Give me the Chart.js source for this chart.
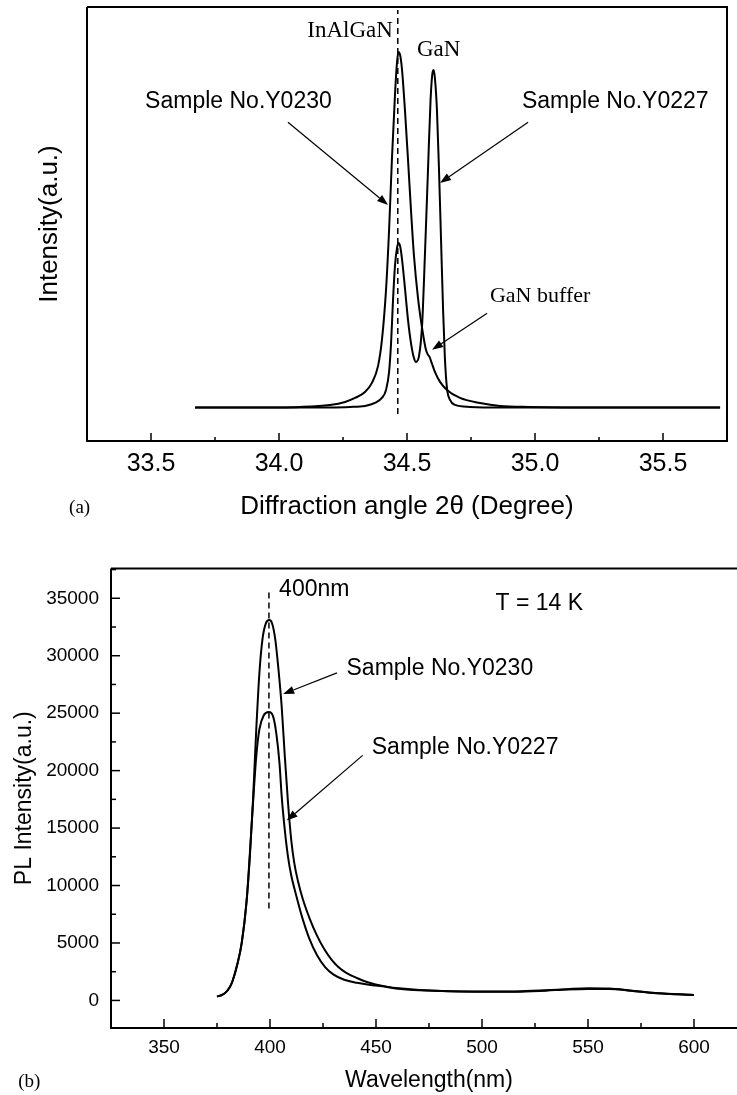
<!DOCTYPE html>
<html lang="en">
<head>
<meta charset="UTF-8">
<title>XRD and PL spectra</title>
<script src="https://cdn.jsdelivr.net/npm/chart.js"></script>
<style>
  html, body { margin: 0; padding: 0; background: #fff; overflow: hidden; }
  #wrapA { position: absolute; left: 0; top: 0; }
  #wrapB { position: absolute; left: 0; top: 545px; }
</style>
</head>
<body>
<div id="wrapA"><canvas id="xrdChart" width="737" height="540"></canvas></div>
<div id="wrapB"><canvas id="plChart" width="760" height="550"></canvas></div>

<script>
// (a) XRD: diffraction angle 2theta (deg) vs intensity (a.u.)
const xrdAngleY0230 = [33.672, 33.887, 34.082, 34.199, 34.258, 34.297, 34.336, 34.363, 34.387, 34.402, 34.418, 34.430, 34.441, 34.453, 34.461, 34.467, 34.473, 34.480, 34.492, 34.504, 34.516, 34.527, 34.543, 34.559, 34.574, 34.582, 34.588, 34.596, 34.609, 34.629, 34.656, 34.707, 34.785, 34.863, 34.980, 35.254, 35.723];
const xrdIntY0230   = [0, 0, 2, 8, 17, 29, 47, 74, 125, 202, 352, 532, 742, 936, 1035, 1065, 1056, 1017, 891, 742, 586, 457, 328, 238, 173, 158, 152, 135, 107, 77, 53, 29, 14, 5, 2, 0, 0];
const xrdAngleY0227 = [33.672, 34.082, 34.277, 34.336, 34.375, 34.402, 34.418, 34.430, 34.438, 34.445, 34.453, 34.461, 34.467, 34.473, 34.480, 34.492, 34.504, 34.516, 34.527, 34.535, 34.547, 34.559, 34.570, 34.582, 34.592, 34.600, 34.604, 34.609, 34.617, 34.625, 34.633, 34.641, 34.648, 34.656, 34.668, 34.688, 34.746, 34.863, 35.723];
const xrdIntY0227   = [0, 0, 2, 5, 14, 29, 53, 107, 197, 316, 424, 478, 493, 484, 448, 358, 262, 191, 149, 137, 155, 247, 457, 712, 921, 1005, 1011, 987, 891, 712, 502, 292, 149, 59, 23, 8, 2, 0, 0];
const xrdTicks = [33.5, 34.0, 34.5, 35.0, 35.5];
const xrdMinorTicks = [33.25, 33.75, 34.25, 34.75, 35.25, 35.75];
const xrdMarkAngle = 34.464;

// (b) PL at 14 K: wavelength (nm) vs PL intensity (a.u.)
const plWaveY0230 = [375, 377, 379, 381, 382.3, 384.5, 386.7, 389, 390.5, 392, 393.5, 395, 396.5, 398, 399.7, 401, 402.5, 404, 405.5, 407, 408.5, 410, 411.5, 413.3, 415.5, 418.9, 422, 425.5, 429, 432.1, 436, 441, 445, 449.8, 455, 460.9, 472, 485, 500, 516, 530, 540, 550, 560, 570, 582, 600];
const plIntY0230  = [340, 450, 680, 1150, 1670, 3080, 5060, 8730, 12500, 17500, 23500, 28500, 31500, 32800, 33100, 32800, 31400, 28800, 25600, 21200, 17200, 14000, 11900, 10300, 8800, 7030, 5700, 4490, 3550, 2940, 2400, 1950, 1650, 1390, 1200, 1050, 880, 800, 770, 780, 880, 980, 1060, 1040, 870, 650, 480];
const plWaveY0227 = [375, 377, 379, 381, 382.3, 384.5, 386.7, 389, 390.5, 392, 393.5, 395, 397, 399.5, 401.5, 403, 404.5, 405.5, 407, 408.5, 410, 412, 415.5, 418.5, 422.2, 426, 430, 435, 441, 446, 452, 463, 472, 485, 500, 516, 530, 540, 550, 560, 570, 582, 600];
const plIntY0227  = [340, 450, 680, 1150, 1670, 3080, 5060, 8730, 12800, 17200, 21200, 23600, 24800, 25100, 24700, 23200, 20600, 17800, 14800, 12500, 10900, 9400, 7030, 5400, 3930, 2900, 2240, 1800, 1530, 1380, 1250, 970, 880, 800, 760, 760, 850, 950, 1000, 1000, 850, 630, 480];
const plXTicks = [350, 400, 450, 500, 550, 600];
const plXMinorTicks = [375, 425, 475, 525, 575, 625];
const plYTicks = [0, 5000, 10000, 15000, 20000, 25000, 30000, 35000];
const plYMinorTicks = [2500, 7500, 12500, 17500, 22500, 27500, 32500, 37500];
const plMarkWave = 399.5;

const SANS = '"Liberation Sans", Arial, sans-serif';
const SERIF = '"Liberation Serif", "Times New Roman", serif';

function pts(xs, ys) {
  return xs.map((v, i) => ({ x: v, y: ys[i] }));
}

// frame, inward ticks, labels and arrows; everything placed through the scales
const framePlugin = {
  id: 'frame',
  afterDatasetsDraw(chart, args, o) {
    const { ctx, chartArea: a, scales: { x, y } } = chart;
    ctx.save();
    ctx.strokeStyle = '#000';
    ctx.fillStyle = '#000';
    ctx.lineWidth = 2;
    ctx.beginPath();
    ctx.moveTo(a.left, a.top); ctx.lineTo(a.right, a.top);
    if (o.rightSide) { ctx.lineTo(a.right, a.bottom); } else { ctx.moveTo(a.right, a.bottom); }
    ctx.lineTo(a.left, a.bottom); ctx.lineTo(a.left, a.top);
    ctx.stroke();

    ctx.lineWidth = 1.5;
    const tick = (vals, len, horiz) => {
      (vals || []).forEach(v => {
        ctx.beginPath();
        if (horiz) {
          const p = x.getPixelForValue(v);
          ctx.moveTo(p, a.bottom); ctx.lineTo(p, a.bottom - len);
        } else {
          const p = y.getPixelForValue(v);
          ctx.moveTo(a.left, p); ctx.lineTo(a.left + len, p);
        }
        ctx.stroke();
      });
    };
    tick(o.xMajor, o.majorLen, true);
    tick(o.xMinor, o.minorLen, true);
    tick(o.yMajor, o.majorLen, false);
    tick(o.yMinor, o.minorLen, false);

    (o.notes || []).forEach(n => {
      ctx.font = n.font;
      ctx.textAlign = n.align || 'left';
      ctx.textBaseline = 'middle';
      ctx.fillText(n.text, x.getPixelForValue(n.x), y.getPixelForValue(n.y));
    });

    ctx.lineWidth = 1.2;
    (o.arrows || []).forEach(ar => {
      const x0 = x.getPixelForValue(ar[0]), y0 = y.getPixelForValue(ar[1]);
      const x1 = x.getPixelForValue(ar[2]), y1 = y.getPixelForValue(ar[3]);
      const ang = Math.atan2(y1 - y0, x1 - x0);
      const hl = 11, hw = 4;
      const bx = x1 - hl * Math.cos(ang), by = y1 - hl * Math.sin(ang);
      ctx.beginPath();
      ctx.moveTo(x0, y0); ctx.lineTo(bx, by);
      ctx.stroke();
      ctx.beginPath();
      ctx.moveTo(x1, y1);
      ctx.lineTo(bx + hw * Math.sin(ang), by - hw * Math.cos(ang));
      ctx.lineTo(bx - hw * Math.sin(ang), by + hw * Math.cos(ang));
      ctx.closePath();
      ctx.fill();
    });
    ctx.restore();
  }
};

const curve = (data) => ({
  data,
  borderColor: '#000',
  borderWidth: 2,
  pointRadius: 0,
  fill: false,
  cubicInterpolationMode: 'monotone'
});
const markLine = (data) => ({
  data,
  borderColor: '#000',
  borderWidth: 1.5,
  borderDash: [6, 4],
  pointRadius: 0,
  fill: false
});

// ---------- (a) XRD ----------
new Chart(document.getElementById('xrdChart'), {
  type: 'line',
  data: {
    datasets: [
      curve(pts(xrdAngleY0230, xrdIntY0230)),
      curve(pts(xrdAngleY0227, xrdIntY0227)),
      markLine([{ x: xrdMarkAngle, y: -19 }, { x: xrdMarkAngle, y: 1191 }])
    ]
  },
  options: {
    responsive: false,
    animation: false,
    layout: { padding: { left: 0, top: 7, right: 10, bottom: 0 } },
    plugins: {
      legend: { display: false },
      tooltip: { enabled: false },
      frame: {
        rightSide: true,
        majorLen: 8, minorLen: 4,
        xMajor: xrdTicks, xMinor: xrdMinorTicks,
        notes: [
          { text: 'InAlGaN', x: 34.445, y: 1128, font: '23px ' + SERIF, align: 'right' },
          { text: 'GaN', x: 34.539, y: 1072, font: '23px ' + SERIF },
          { text: 'Sample No.Y0230', x: 33.477, y: 915, font: '23px ' + SANS },
          { text: 'Sample No.Y0227', x: 34.949, y: 915, font: '23px ' + SANS },
          { text: 'GaN buffer', x: 34.824, y: 334, font: '22px ' + SERIF },
          { text: '(a)', x: 33.180, y: -301, font: '19px ' + SERIF }
        ],
        arrows: [
          [34.035, 855, 34.426, 607],
          [34.973, 855, 34.629, 673],
          [34.813, 283, 34.598, 173]
        ]
      }
    },
    scales: {
      x: {
        type: 'linear', min: 33.25, max: 35.75,
        afterBuildTicks: s => { s.ticks = xrdTicks.map(v => ({ value: v })); },
        afterFit: s => { s.height = 99; },
        grid: { display: false, drawTicks: false },
        border: { display: false },
        ticks: { color: '#000', padding: 8, font: { family: SANS, size: 25 }, callback: v => v.toFixed(1), maxRotation: 0 },
        title: { display: true, text: 'Diffraction angle 2θ (Degree)', color: '#000', font: { family: SANS, size: 26 }, padding: { top: 0, bottom: 18 } }
      },
      y: {
        min: -100, max: 1200,
        afterFit: s => { s.width = 87; },
        grid: { display: false, drawTicks: false },
        border: { display: false },
        ticks: { display: false },
        title: { display: true, text: 'Intensity(a.u.)', color: '#000', font: { family: SANS, size: 26 }, padding: { top: 34, bottom: 0 } }
      }
    }
  },
  plugins: [framePlugin]
});

// ---------- (b) PL ----------
new Chart(document.getElementById('plChart'), {
  type: 'line',
  data: {
    datasets: [
      curve(pts(plWaveY0230, plIntY0230)),
      curve(pts(plWaveY0227, plIntY0227)),
      markLine([{ x: plMarkWave, y: 8000 }, { x: plMarkWave, y: 35800 }])
    ]
  },
  options: {
    responsive: false,
    animation: false,
    layout: { padding: { left: 0, top: 11, right: 13, bottom: 0 } },
    plugins: {
      legend: { display: false },
      tooltip: { enabled: false },
      frame: {
        rightSide: false,
        majorLen: 9, minorLen: 5,
        xMajor: plXTicks, xMinor: plXMinorTicks,
        yMajor: plYTicks, yMinor: plYMinorTicks,
        notes: [
          { text: '400nm', x: 404.3, y: 35740, font: '23px ' + SANS },
          { text: 'T = 14 K', x: 506.4, y: 34490, font: '23px ' + SANS },
          { text: 'Sample No.Y0230', x: 436.1, y: 28850, font: '23px ' + SANS },
          { text: 'Sample No.Y0227', x: 448.0, y: 22010, font: '23px ' + SANS },
          { text: '(b)', x: 281.2, y: -7060, font: '19px ' + SERIF }
        ],
        arrows: [
          [431.6, 28510, 406.2, 26670],
          [443.7, 21330, 407.9, 15650]
        ]
      }
    },
    scales: {
      x: {
        type: 'linear', min: 325, max: 625,
        afterBuildTicks: s => { s.ticks = plXTicks.map(v => ({ value: v })); },
        afterFit: s => { s.height = 67; },
        grid: { display: false, drawTicks: false },
        border: { display: false },
        ticks: { color: '#000', padding: 8, font: { family: SANS, size: 19 }, maxRotation: 0 },
        title: { display: true, text: 'Wavelength(nm)', color: '#000', font: { family: SANS, size: 23 }, padding: { top: 0, bottom: 1 } }
      },
      y: {
        min: -2400, max: 37600,
        afterBuildTicks: s => { s.ticks = plYTicks.map(v => ({ value: v })); },
        afterFit: s => { s.width = 111; },
        grid: { display: false, drawTicks: false },
        border: { display: false },
        ticks: { color: '#000', padding: 12, font: { family: SANS, size: 19 }, callback: v => String(v) },
        title: { display: true, text: 'PL Intensity(a.u.)', color: '#000', font: { family: SANS, size: 23 }, padding: { top: 11, bottom: 0 } }
      }
    }
  },
  plugins: [framePlugin]
});
</script>
</body>
</html>
